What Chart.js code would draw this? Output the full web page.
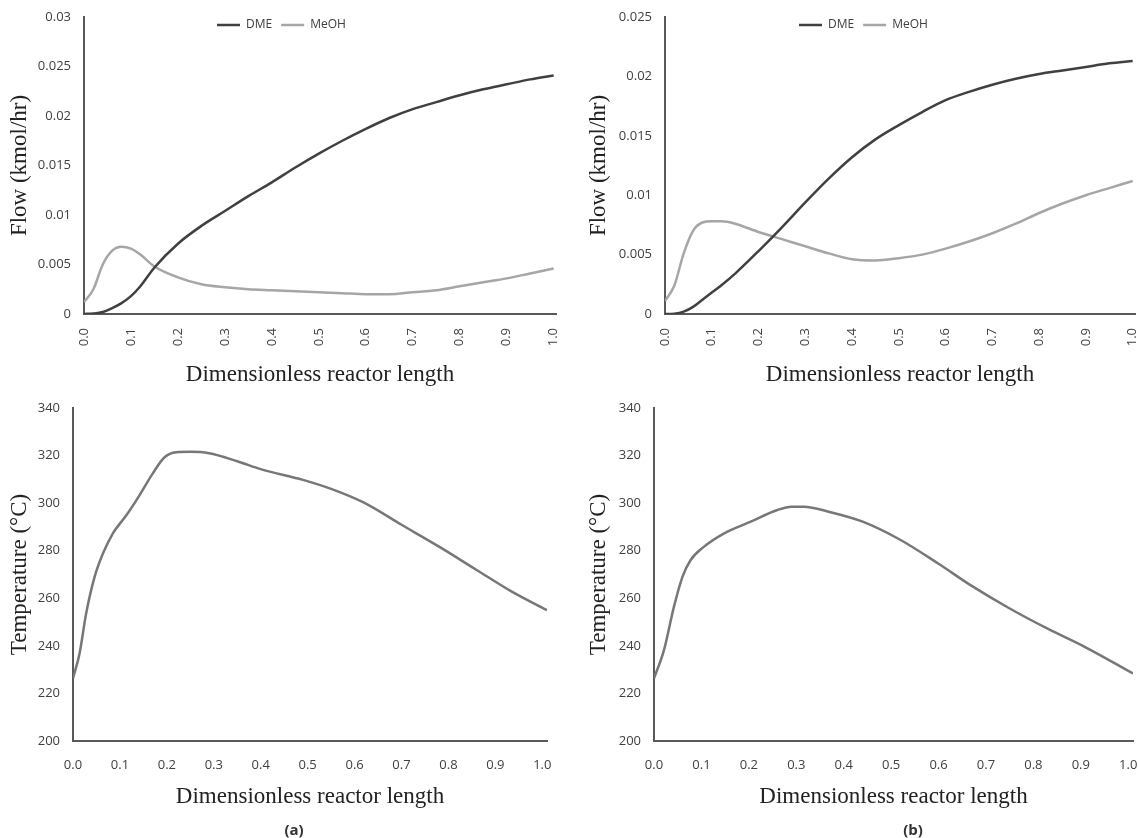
<!DOCTYPE html>
<html>
<head>
<meta charset="utf-8">
<script src="https://cdn.jsdelivr.net/npm/chart.js@4.4.0/dist/chart.umd.min.js"></script>
<style>
  body { margin: 0; background: #fff; width: 1138px; height: 838px; overflow: hidden; position: relative; }
  canvas { position: absolute; }
  .tag { position: absolute; font: bold 15px 'Open Sans', sans-serif; color: #333; transform: translate(-50%, -50%); }
</style>
</head>
<body>
<canvas id="flowA" width="570" height="392" style="left:0;top:0"></canvas>
<canvas id="flowB" width="580" height="392" style="left:570px;top:0"></canvas>
<canvas id="tempA" width="570" height="420" style="left:0;top:400px"></canvas>
<canvas id="tempB" width="580" height="420" style="left:570px;top:400px"></canvas>
<div class="tag" style="left:294px;top:829px">(a)</div>
<div class="tag" style="left:913px;top:829px">(b)</div>
<script>
// reactor position (dimensionless) for the flow profiles
var flowX = [0, 0.02, 0.04, 0.06, 0.08, 0.10, 0.12, 0.15, 0.20, 0.25, 0.30, 0.35, 0.40, 0.45, 0.50, 0.55, 0.60, 0.65, 0.70, 0.75, 0.80, 0.85, 0.90, 0.95, 1.00];
// case (a), kmol/hr
var dmeA  = [0, 0.00005, 0.0002, 0.0006, 0.0011, 0.0018, 0.0028, 0.0047, 0.0071, 0.0089, 0.0104, 0.0119, 0.0133, 0.0148, 0.0162, 0.0175, 0.0187, 0.0198, 0.0207, 0.0214, 0.0221, 0.0227, 0.0232, 0.0237, 0.0241];
var meohA = [0.0012, 0.0025, 0.0050, 0.0064, 0.0068, 0.0066, 0.0060, 0.0048, 0.0037, 0.0030, 0.0027, 0.0025, 0.0024, 0.0023, 0.0022, 0.0021, 0.0020, 0.0020, 0.0022, 0.0024, 0.0028, 0.0032, 0.0036, 0.0041, 0.0046];
// case (b), kmol/hr
var dmeB  = [0, 0.00003, 0.0002, 0.0006, 0.0012, 0.0018, 0.0024, 0.0034, 0.0053, 0.0073, 0.0094, 0.0114, 0.0132, 0.0147, 0.0159, 0.0170, 0.0180, 0.0187, 0.0193, 0.0198, 0.0202, 0.0205, 0.0208, 0.0211, 0.0213];
var meohB = [0.0011, 0.0024, 0.0051, 0.0070, 0.0077, 0.0078, 0.0078, 0.0076, 0.0069, 0.0063, 0.0057, 0.0051, 0.0046, 0.0045, 0.0047, 0.0050, 0.0055, 0.0061, 0.0068, 0.0076, 0.0085, 0.0093, 0.0100, 0.0106, 0.0112];

// temperature profiles, degC
var tempXA = [0, 0.014, 0.028, 0.046, 0.064, 0.085, 0.114, 0.142, 0.17, 0.195, 0.22, 0.25, 0.29, 0.35, 0.40, 0.49, 0.55, 0.62, 0.70, 0.78, 0.86, 0.935, 1.01];
var tempA  = [226.3, 236.8, 253.6, 269, 278.9, 287.3, 295, 303.4, 312.5, 319.3, 321.4, 321.6, 321, 317.6, 314.3, 309.8, 306, 300.2, 290.9, 281.7, 271.9, 262.8, 255];
var tempXB = [0, 0.021, 0.042, 0.06, 0.077, 0.105, 0.148, 0.204, 0.26, 0.29, 0.316, 0.37, 0.44, 0.52, 0.60, 0.67, 0.75, 0.83, 0.91, 1.01];
var tempB  = [226.3, 238.2, 256.4, 269, 276, 281.6, 287.3, 292.2, 297.1, 298.5, 298.5, 296.3, 292.2, 284.5, 274.5, 265.2, 255.7, 247.2, 239.4, 228.4];

var lengthTicks = [0, 0.1, 0.2, 0.3, 0.4, 0.5, 0.6, 0.7, 0.8, 0.9, 1.0];
var flowTicksA = [0, 0.005, 0.01, 0.015, 0.02, 0.025, 0.03];
var flowTicksB = [0, 0.005, 0.01, 0.015, 0.02, 0.025];
var tempTicks = [200, 220, 240, 260, 280, 300, 320, 340];

var axisColor = '#595959';
var labelColor = '#404040';
var tickFont = { family: "'Open Sans', sans-serif", size: 13 };
var titleFont = { family: "'Liberation Serif', 'Times New Roman', serif", size: 23 };

function pts(xs, ys) {
    return xs.map(function (x, i) { return { x: x, y: ys[i] }; });
}

// legend sits inside the plot like the spreadsheet one: take no layout room, then move it
var legendSpot = {
    id: 'legendSpot',
    beforeLayout: function (chart) {
        var lg = chart.legend;
        if (!lg || lg._spotted) return;
        var fit = lg.fit;
        lg.fit = function () { fit.call(this); this.height = 0; };
        lg._spotted = true;
    },
    afterLayout: function (chart) {
        var o = chart.options.plugins.legendSpot;
        if (!o || !o.x || !chart.legend) return;
        var lg = chart.legend;
        var pad = lg.options.labels.padding;
        var w = lg.right - lg.left;
        lg.left = o.x - pad; lg.right = lg.left + w;
        lg.top = o.y - pad - 6; lg.bottom = lg.top + 30;
    }
};

// tick labels may hang past the plot edges, so the plot keeps the layout padding only
function noEdgePad(s) {
    s.paddingLeft = 0; s.paddingRight = 0; s.paddingTop = 0; s.paddingBottom = 0;
}

function makeChart(id, datasets, opt) {
    var rotated = opt.rotated;
    return new Chart(document.getElementById(id), {
        type: 'line',
        data: { datasets: datasets },
        plugins: [legendSpot],
        options: {
            responsive: false,
            animation: false,
            layout: { padding: { top: opt.top, right: opt.right, left: 0, bottom: 0 } },
            elements: { point: { radius: 0 }, line: { borderWidth: 2.5, cubicInterpolationMode: 'monotone' } },
            plugins: {
                legend: {
                    display: !!opt.legendX,
                    position: 'top',
                    align: 'start',
                    labels: {
                        boxWidth: 23, boxHeight: 0, padding: 9,
                        color: labelColor,
                        font: { family: "'Open Sans', sans-serif", size: 12 }
                    }
                },
                legendSpot: { x: opt.legendX, y: 25 },
                tooltip: { enabled: false }
            },
            scales: {
                x: {
                    type: 'linear', min: 0, max: opt.xMax,
                    afterBuildTicks: function (s) { s.ticks = lengthTicks.map(function (v) { return { value: v }; }); },
                    afterFit: function (s) { s.height = opt.xHeight; noEdgePad(s); },
                    grid: { display: false, drawTicks: false },
                    border: { display: true, color: axisColor, width: 2 },
                    ticks: {
                        autoSkip: false, color: labelColor, font: tickFont,
                        padding: rotated ? 14 : 16,
                        minRotation: rotated ? 90 : 0, maxRotation: rotated ? 90 : 0,
                        callback: function (v) { return v.toFixed(1); }
                    },
                    title: {
                        display: true, text: 'Dimensionless reactor length', color: '#222', font: titleFont,
                        padding: { top: 4, bottom: opt.xTitlePad }
                    }
                },
                y: {
                    min: opt.yTicks[0], max: opt.yTicks[opt.yTicks.length - 1],
                    afterBuildTicks: function (s) { s.ticks = opt.yTicks.map(function (v) { return { value: v }; }); },
                    afterFit: function (s) { s.width = opt.yWidth; noEdgePad(s); },
                    grid: { display: false, drawTicks: false },
                    border: { display: true, color: axisColor, width: 2 },
                    ticks: {
                        color: labelColor, font: tickFont, padding: 13,
                        callback: function (v) { return String(Math.round(v * 1000) / 1000); }
                    },
                    title: {
                        display: true, text: opt.yTitle, color: '#222', font: titleFont,
                        padding: { top: opt.yTitlePad, bottom: 0 }
                    }
                }
            }
        }
    });
}

function flowSets(dme, meoh) {
    return [
        { label: 'DME', data: pts(flowX, dme), borderColor: '#404040', backgroundColor: '#404040' },
        { label: 'MeOH', data: pts(flowX, meoh), borderColor: '#a6a6a6', backgroundColor: '#a6a6a6' }
    ];
}

makeChart('flowA', flowSets(dmeA, meohA), {
    rotated: true, xMax: 1.005, top: 17, right: 14, xHeight: 78, yWidth: 84,
    xTitlePad: 3, yTitlePad: 6, yTicks: flowTicksA, yTitle: 'Flow (kmol/hr)', legendX: 217
});
makeChart('flowB', flowSets(dmeB, meohB), {
    rotated: true, xMax: 1.005, top: 17, right: 15, xHeight: 78, yWidth: 95,
    xTitlePad: 3, yTitlePad: 15, yTicks: flowTicksB, yTitle: 'Flow (kmol/hr)', legendX: 229
});
makeChart('tempA', [{ label: 'T', data: pts(tempXA, tempA), borderColor: '#777777' }], {
    rotated: false, xMax: 1.01, top: 8, right: 23, xHeight: 79, yWidth: 73,
    xTitlePad: 9, yTitlePad: 6, yTicks: tempTicks, yTitle: 'Temperature (\u00B0C)'
});
makeChart('tempB', [{ label: 'T', data: pts(tempXB, tempB), borderColor: '#777777' }], {
    rotated: false, xMax: 1.01, top: 8, right: 17, xHeight: 79, yWidth: 84,
    xTitlePad: 9, yTitlePad: 15, yTicks: tempTicks, yTitle: 'Temperature (\u00B0C)'
});
</script>
</body>
</html>
